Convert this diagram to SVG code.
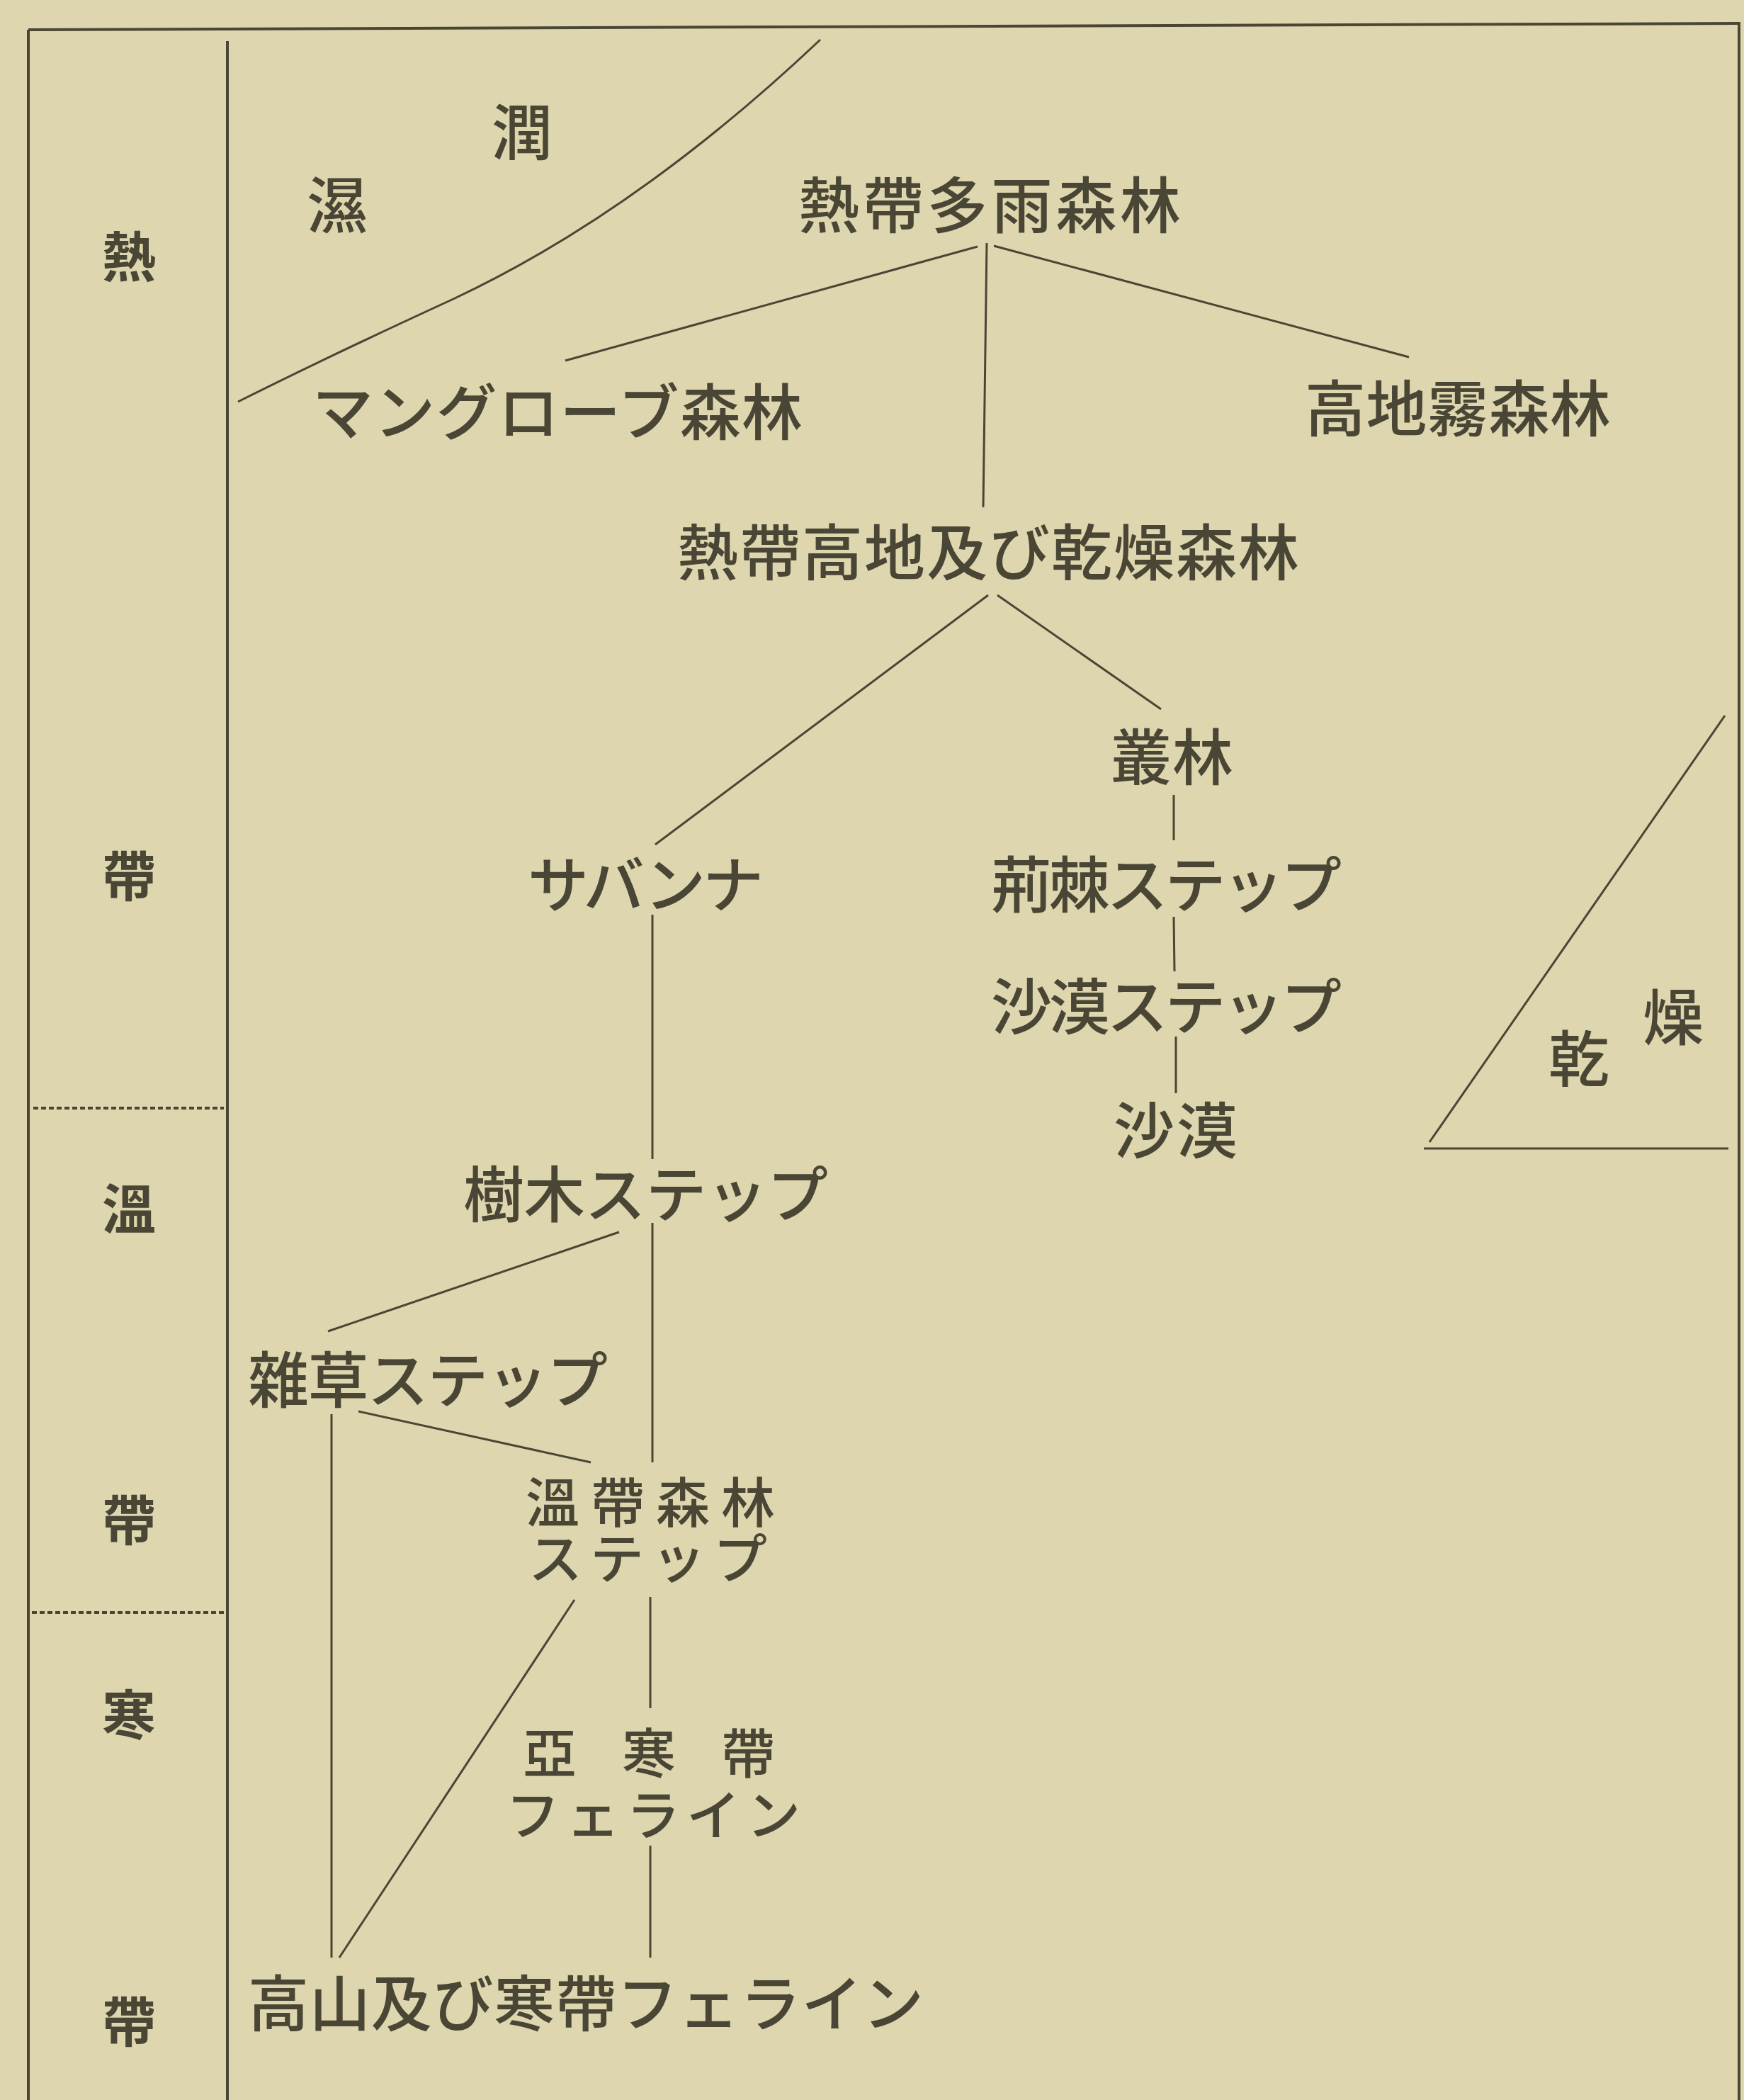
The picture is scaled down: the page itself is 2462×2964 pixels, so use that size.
<svg xmlns="http://www.w3.org/2000/svg" width="2462" height="2964" viewBox="0 0 2462 2964">
<style>
.t{font-family:"Noto Sans CJK JP","Noto Sans CJK SC",sans-serif;fill:#4a4635;dominant-baseline:central;font-size:86px;font-weight:500}
.z{font-size:76px;text-anchor:middle;font-weight:700}
.s{font-size:76px}
.b{stroke:#4a4635;stroke-width:4;fill:none}
.c{stroke:#4a4635;stroke-width:3;fill:none}
.d{stroke:#4a4635;stroke-width:4;stroke-dasharray:7 4;fill:none}
</style>
<rect x="0" y="0" width="2462" height="2964" fill="#ddd6ae"/>
<g id="frame">
<path class="b" d="M40,42 L2457,33"/>
<path class="b" d="M40,42 L40,2964"/>
<path class="b" d="M321,58 L321,2964"/>
<path class="b" d="M2455,33 L2455,2964"/>
<path class="d" d="M47,1564 L316,1564"/>
<path class="d" d="M45,2276 L316,2276"/>
</g>
<g id="zones">
<text class="t z" x="182" y="358">熱</text>
<text class="t z" x="182" y="1232">帶</text>
<text class="t z" x="182" y="1702">溫</text>
<text class="t z" x="182" y="2141">帶</text>
<text class="t z" x="182" y="2416">寒</text>
<text class="t z" x="182" y="2849">帶</text>
</g>
<g id="humid">
<path class="c" d="M1158,56 Q900,300 640,422 Q470,500 336,567"/>
<text class="t" x="737" y="181" text-anchor="middle" font-size="90">潤</text>
<text class="t" x="476" y="284" text-anchor="middle" font-size="90">濕</text>
</g>
<g id="arid">
<path class="c" d="M2435,1010 L2018,1612"/>
<path class="c" d="M2010,1621 L2440,1621"/>
<text class="t" x="2362" y="1430" text-anchor="middle" font-size="86">燥</text>
<text class="t" x="2229" y="1489" text-anchor="middle" font-size="86">乾</text>
</g>
<g id="connectors">
<path class="c" d="M1380,348 L798,509"/>
<path class="c" d="M1393,343 L1388,716"/>
<path class="c" d="M1403,347 L1989,504"/>
<path class="c" d="M1395,840 L925,1192"/>
<path class="c" d="M1408,840 L1639,1001"/>
<path class="c" d="M1657,1122 L1657,1186"/>
<path class="c" d="M1657,1294 L1658,1371"/>
<path class="c" d="M1660,1463 L1660,1543"/>
<path class="c" d="M921,1291 L921,1636"/>
<path class="c" d="M921,1726 L921,2064"/>
<path class="c" d="M874,1739 L463,1879"/>
<path class="c" d="M506,1992 L834,2064"/>
<path class="c" d="M468,1996 L468,2763"/>
<path class="c" d="M811,2258 L479,2763"/>
<path class="c" d="M918,2254 L918,2411"/>
<path class="c" d="M918,2605 L918,2763"/>
</g>
<g id="n-rainforest"><text class="t" x="1127" y="284" textLength="540" lengthAdjust="spacing">熱帶多雨森林</text></g>
<g id="n-mangrove"><text class="t" x="441" y="576" textLength="692" lengthAdjust="spacing">マングローブ森林</text></g>
<g id="n-cloudforest"><text class="t" x="1842" y="571" textLength="432" lengthAdjust="spacing">高地霧森林</text></g>
<g id="n-dryforest"><text class="t" x="956" y="774" textLength="878" lengthAdjust="spacing">熱帶高地及び乾燥森林</text></g>
<g id="n-bush"><text class="t" x="1568" y="1063" textLength="173" lengthAdjust="spacing">叢林</text></g>
<g id="n-thornsteppe"><text class="t" x="1399" y="1243" textLength="495" lengthAdjust="spacing">荊棘ステップ</text></g>
<g id="n-desertsteppe"><text class="t" x="1399" y="1415" textLength="495" lengthAdjust="spacing">沙漠ステップ</text></g>
<g id="n-desert"><text class="t" x="1572" y="1590" textLength="175" lengthAdjust="spacing">沙漠</text></g>
<g id="n-savanna"><text class="t" x="745" y="1243" textLength="333" lengthAdjust="spacing">サバンナ</text></g>
<g id="n-treesteppe"><text class="t" x="654" y="1680" textLength="515" lengthAdjust="spacing">樹木ステップ</text></g>
<g id="n-grasssteppe"><text class="t" x="350" y="1942" textLength="508" lengthAdjust="spacing">雜草ステップ</text></g>
<g id="n-temperate">
<text class="t s"><tspan x="742" y="2116" letter-spacing="16">溫帶森林</tspan><tspan x="746" y="2195" letter-spacing="11">ステップ</tspan></text>
</g>
<g id="n-subarctic">
<text class="t s"><tspan x="738" y="2470" letter-spacing="64">亞寒帶</tspan><tspan x="714" y="2557" letter-spacing="9">フェライン</tspan></text>
</g>
<g id="n-alpine"><text class="t" x="350" y="2822" textLength="954" lengthAdjust="spacing">高山及び寒帶フェライン</text></g>
</svg>
